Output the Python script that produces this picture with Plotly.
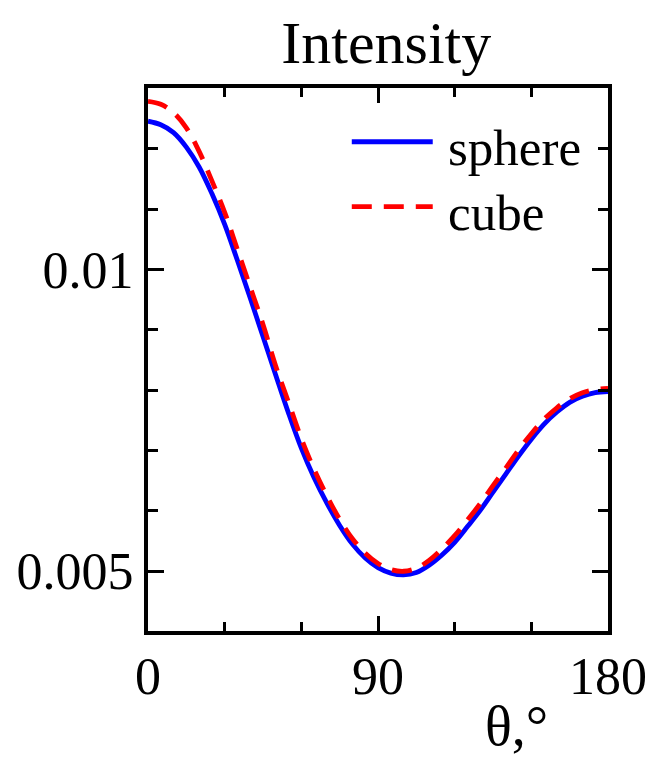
import plotly.graph_objects as go

theta = [0, 5, 10, 15, 20, 25, 30, 35, 40, 45, 50, 55, 60, 65, 70, 75, 80, 85, 90,
         95, 100, 105, 110, 115, 120, 125, 130, 135, 140, 145, 150, 155, 160, 165,
         170, 175, 180]
sphere = [0.01246, 0.01240, 0.01227, 0.01203, 0.01170, 0.01126, 0.01075, 0.01015,
          0.00953, 0.00889, 0.00825, 0.00762, 0.00704, 0.00655, 0.00613, 0.00576,
          0.00545, 0.00522, 0.00506, 0.00497, 0.00494, 0.00498, 0.00510, 0.00527,
          0.00548, 0.00574, 0.00601, 0.00631, 0.00661, 0.00691, 0.00719, 0.00744,
          0.00764, 0.00780, 0.00790, 0.00796, 0.00798]
cube = [0.01279, 0.01274, 0.01260, 0.01235, 0.01196, 0.01147, 0.01095, 0.01033,
        0.00971, 0.00909, 0.00840, 0.00780, 0.00720, 0.00669, 0.00625, 0.00586,
        0.00554, 0.00530, 0.00513, 0.00503, 0.00500, 0.00505, 0.00518, 0.00537,
        0.00559, 0.00585, 0.00612, 0.00642, 0.00671, 0.00701, 0.00728, 0.00752,
        0.00771, 0.00786, 0.00796, 0.00801, 0.00803]

x_ticks = [0, 90, 180]
x_ticktext = ["0", "90", "180"]
y_ticks = [0.005, 0.01]
y_ticktext = ["0.005", "0.01"]
series_names = ["sphere", "cube"]

FONT = "Liberation Serif, Times New Roman, serif"

fig = go.Figure()
fig.add_trace(go.Scatter(x=theta, y=sphere, mode="lines", name=series_names[0],
                         line=dict(color="#0000FF", width=4.8, shape="spline")))
fig.add_trace(go.Scatter(x=theta, y=cube, mode="lines", name=series_names[1],
                         line=dict(color="#FF0000", width=4.8, shape="spline",
                                   dash="20px,12px")))

# manual legend (long line samples as in the reference)
leg = [(0.901, "#0000FF", "solid", series_names[0]),
       (0.7816, "#FF0000", "20px,12px", series_names[1])]
for yy, col, dash, name in leg:
    fig.add_shape(type="line", xref="paper", yref="paper", x0=0.443, x1=0.619,
                  y0=yy, y1=yy, line=dict(color=col, width=4.8, dash=dash))
    fig.add_annotation(xref="paper", yref="paper", x=0.647, y=yy - 0.012,
                       xanchor="left", yanchor="middle", text=name, showarrow=False,
                       font=dict(family=FONT, size=51, color="black"))

fig.add_annotation(xref="paper", yref="paper", x=0.80, y=-0.175,
                   xanchor="center", yanchor="middle", text="θ,°", showarrow=False,
                   font=dict(family=FONT, size=56, color="black"))

axis_common = dict(showline=True, linewidth=4, linecolor="black", mirror="allticks",
                   ticks="inside", tickwidth=3, tickcolor="black", showgrid=False,
                   zeroline=False, tickfont=dict(family=FONT, size=52, color="black"))

fig.update_xaxes(range=[0, 180], tickmode="array", tickvals=x_ticks, ticktext=x_ticktext,
                 ticklen=15, ticklabelstandoff=-3,
                 minor=dict(ticks="inside", dtick=30, tick0=0, ticklen=9, tickwidth=3,
                            tickcolor="black", showgrid=False),
                 **axis_common)
fig.update_yaxes(range=[0.00401, 0.01301], tickmode="array", tickvals=y_ticks,
                 ticktext=y_ticktext, ticklen=16,
                 minor=dict(ticks="inside", dtick=0.001, tick0=0, ticklen=10, tickwidth=3,
                            tickcolor="black", showgrid=False),
                 **axis_common)

fig.update_layout(
    width=659, height=759,
    margin=dict(l=148, r=44, t=88, b=128, pad=0),
    plot_bgcolor="white", paper_bgcolor="white",
    showlegend=False,
    title=dict(text="Intensity", xref="paper", x=0.518, xanchor="center",
               yref="container", y=1 - 42 / 759, yanchor="middle",
               font=dict(family=FONT, size=60, color="black")),
)

fig.write_html("out.html")
